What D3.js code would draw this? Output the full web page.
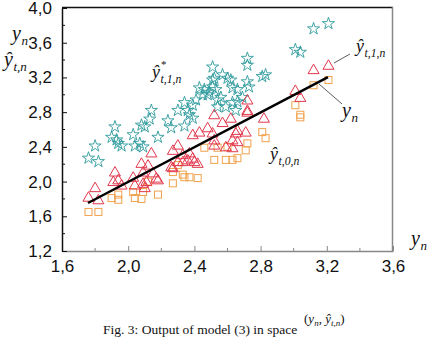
<!DOCTYPE html>
<html><head><meta charset="utf-8">
<script src="https://cdn.jsdelivr.net/npm/d3@7"></script>
<style>body{margin:0;background:#fff}svg{display:block}</style>
</head><body>
<script>
const xTicks = [1.6, 2.0, 2.4, 2.8, 3.2, 3.6];
const yTicks = [1.2, 1.6, 2.0, 2.4, 2.8, 3.2, 3.6, 4.0];
const lineYn = [[1.757, 1.753], [3.207, 3.204]];
const stars = [
 [1.76,2.27],[1.80,2.41],[1.82,2.23],[1.92,2.63],[1.90,2.51],[1.93,2.48],[1.94,2.44],[1.96,2.41],
 [2.03,2.54],[2.04,2.41],[2.07,2.44],[2.09,2.40],[2.08,2.65],[2.10,2.63],[2.14,2.82],[2.13,2.72],
 [2.18,2.51],[2.24,2.70],[2.26,2.62],[2.30,2.82],[2.34,2.64],[2.34,2.91],[2.36,2.82],[2.37,2.77],
 [2.39,2.73],[2.39,2.88],[2.41,2.94],[2.43,3.08],[2.45,3.00],[2.46,3.06],[2.48,3.00],[2.49,3.03],
 [2.51,3.32],[2.52,3.19],[2.53,3.06],[2.54,2.94],[2.54,2.86],[2.56,2.97],[2.57,3.23],[2.60,3.19],
 [2.51,3.17],[2.51,3.09],[2.63,3.08],[2.66,3.06],[2.59,2.86],[2.63,2.91],[2.66,2.92],[2.69,2.97],
 [2.72,3.42],[2.72,3.34],[2.72,3.15],[2.73,3.09],[2.81,3.21],[2.83,3.23],[3.01,3.52],[3.04,3.49],
 [3.12,3.76],[3.21,3.82],[2.62,3.17],[2.65,2.82]
];
const triangles = [
 [1.76,1.82],[1.80,1.93],[1.82,1.79],[1.92,2.11],[1.91,2.00],[1.94,2.02],[1.96,1.96],[2.03,2.05],
 [2.04,1.96],[2.08,2.21],[2.09,1.98],[2.10,1.93],[2.12,2.19],[2.15,2.10],[2.18,2.02],[2.26,2.17],
 [2.30,2.23],[2.33,2.23],[2.40,2.23],[2.14,2.33],[2.11,2.00],[2.17,2.04],[2.52,2.77],[2.62,2.73],
 [2.57,2.68],[2.39,2.54],[2.43,2.57],[2.48,2.62],[2.51,2.56],[2.52,2.48],[2.66,2.59],[2.63,2.48],
 [2.66,2.46],[2.30,2.42],[2.27,2.36],[2.37,2.33],[2.36,2.25],[2.39,2.27],[2.33,2.31],[2.42,2.21],
 [2.52,2.42],[2.59,2.40],[2.27,2.16],[2.72,2.80],[2.82,2.73],[2.65,2.56],[2.71,2.57],[2.63,2.39],
 [3.12,3.29],[3.21,3.34],[3.01,3.05],[3.04,2.97],[2.72,2.94],[2.72,2.82],[2.09,2.11]
];
const squares = [
 [1.76,1.65],[1.82,1.65],[1.90,1.81],[1.94,1.85],[1.94,1.79],[2.03,1.88],[2.04,1.81],[2.08,1.80],
 [2.09,1.88],[2.12,2.00],[2.18,1.85],[2.27,1.98],[2.33,2.08],[2.37,2.05],[2.42,2.04],[2.30,2.19],
 [2.52,2.25],[2.27,2.11],[2.59,2.25],[2.63,2.25],[2.46,2.39],[2.54,2.39],[2.60,2.40],[2.66,2.27],
 [3.04,2.74],[2.81,2.57],[2.83,2.50],[2.72,2.44],[2.71,2.36],[3.12,3.11],[3.21,3.17],[3.01,2.88],
 [3.04,2.77],[2.34,2.05]
];

const W = 431, H = 342;
const svg = d3.select("body").append("svg").attr("width", W).attr("height", H);
const x = d3.scaleLinear().domain([1.6, 3.6]).range([62, 393]);
const y = d3.scaleLinear().domain([1.2, 4.0]).range([251, 8]);
const fmt = d => d.toFixed(1).replace(".", ",");
const sans = "'Liberation Sans', Arial, sans-serif";
const serif = "'Liberation Serif', 'Times New Roman', serif";

// frame
svg.append("line").attr("x1", 62).attr("x2", 393).attr("y1", 7.5).attr("y2", 7.5).attr("stroke", "#111").attr("stroke-width", 1.5);
svg.append("line").attr("x1", 392.5).attr("x2", 392.5).attr("y1", 7).attr("y2", 251).attr("stroke", "#888").attr("stroke-width", 1.5);

// axes
const xAxis = d3.axisBottom(x).tickValues(xTicks).tickFormat(fmt).tickSizeInner(-5).tickSizeOuter(0);
const gx = svg.append("g").attr("transform", "translate(0,251)").call(xAxis);
gx.attr("font-family", sans).attr("font-size", 17);
gx.select(".domain").attr("stroke", "#888").attr("stroke-width", 1.5);
gx.selectAll(".tick line").attr("stroke", "#888");
gx.selectAll("text").attr("fill", "#111").attr("dy", "0.71em").attr("y", 9);
const xMinor = d3.range(1.8, 3.6, 0.4);
svg.append("g").selectAll("line").data(xMinor).join("line")
  .attr("x1", d => x(d)).attr("x2", d => x(d)).attr("y1", 251).attr("y2", 248).attr("stroke", "#888");

const yAxis = d3.axisLeft(y).tickValues(yTicks).tickFormat(fmt).tickSizeInner(-5).tickSizeOuter(0);
const gy = svg.append("g").attr("transform", "translate(62,0)").call(yAxis);
gy.attr("font-family", sans).attr("font-size", 17);
gy.select(".domain").attr("stroke", "#111").attr("stroke-width", 1.5);
gy.selectAll(".tick line").attr("stroke", "#111");
gy.selectAll("text").attr("fill", "#111").attr("x", -10);
const yMinor = d3.range(1.4, 4.0, 0.4);
svg.append("g").selectAll("line").data(yMinor).join("line")
  .attr("x1", 62).attr("x2", 65).attr("y1", d => y(d)).attr("y2", d => y(d)).attr("stroke", "#111");

// markers
const starPath = d3.symbol().type(d3.symbolStar).size(46)();
svg.append("g").selectAll("path").data(stars).join("path")
  .attr("d", starPath).attr("transform", d => `translate(${x(d[0])},${y(d[1])})`)
  .attr("fill", "none").attr("stroke", "#2e9a9c").attr("stroke-width", 0.9);

svg.append("g").selectAll("rect").data(squares).join("rect")
  .attr("x", d => x(d[0]) - 3.5).attr("y", d => y(d[1]) - 3.5).attr("width", 7).attr("height", 7)
  .attr("fill", "none").attr("stroke", "#f0a24e").attr("stroke-width", 1);

const tri = "M0,-5.5L5.5,4L-5.5,4Z";
svg.append("g").selectAll("path").data(triangles).join("path")
  .attr("d", tri).attr("transform", d => `translate(${x(d[0])},${y(d[1])})`)
  .attr("fill", "none").attr("stroke", "#e2374c").attr("stroke-width", 1);

// y_n line
svg.append("path").datum(lineYn)
  .attr("d", d3.line().x(d => x(d[0])).y(d => y(d[1])))
  .attr("stroke", "#000").attr("stroke-width", 2.5).attr("fill", "none");

// leader lines
svg.append("line").attr("x1", 334).attr("y1", 63).attr("x2", 350).attr("y2", 54).attr("stroke", "#333").attr("stroke-width", 0.8);
svg.append("line").attr("x1", 319).attr("y1", 84).attr("x2", 342).attr("y2", 104).attr("stroke", "#333").attr("stroke-width", 0.8);

// math-like labels: base glyph, then subscript / superscript as separate texts
function label(xp, yp, base, sub, size, sup) {
  const b = svg.append("text").attr("x", xp).attr("y", yp).attr("font-family", serif)
    .attr("font-style", "italic").attr("font-size", size).attr("fill", "#111").text(base);
  const w = b.node().getComputedTextLength();
  if (sup) svg.append("text").attr("x", xp + w + 1).attr("y", yp - size * 0.55).attr("font-family", serif)
    .attr("font-size", size * 0.6).attr("fill", "#111").text(sup);
  if (sub) svg.append("text").attr("x", xp + w + 0.5).attr("y", yp + size * 0.25).attr("font-family", serif)
    .attr("font-style", "italic").attr("font-size", size * 0.65).attr("fill", "#111").text(sub);
}
label(12, 40, "y", "n", 20);
label(4, 66, "ŷ", "t,n", 20);
label(152, 78, "ŷ", "t,1,n", 18, "*");
label(356, 52, "ŷ", "t,1,n", 18);
label(342, 117, "y", "n", 20);
label(270, 160, "ŷ", "t,0,n", 18);
label(411, 245, "y", "n", 20);

// caption
svg.append("text").attr("x", 103).attr("y", 334).attr("font-family", serif).attr("font-size", 13.5)
  .attr("fill", "#111").text("Fig. 3: Output of model (3) in space");
const cap = svg.append("text").attr("x", 304).attr("y", 323).attr("font-family", serif).attr("font-size", 13).attr("fill", "#111");
cap.append("tspan").text("(");
cap.append("tspan").attr("font-style", "italic").text("y");
cap.append("tspan").attr("font-style", "italic").attr("font-size", 9).attr("dy", 3).text("n");
cap.append("tspan").attr("dy", -3).text(", ");
cap.append("tspan").attr("font-style", "italic").text("ŷ");
cap.append("tspan").attr("font-style", "italic").attr("font-size", 9).attr("dy", 3).text("t,n");
cap.append("tspan").attr("dy", -3).text(")");
</script>
</body></html>
